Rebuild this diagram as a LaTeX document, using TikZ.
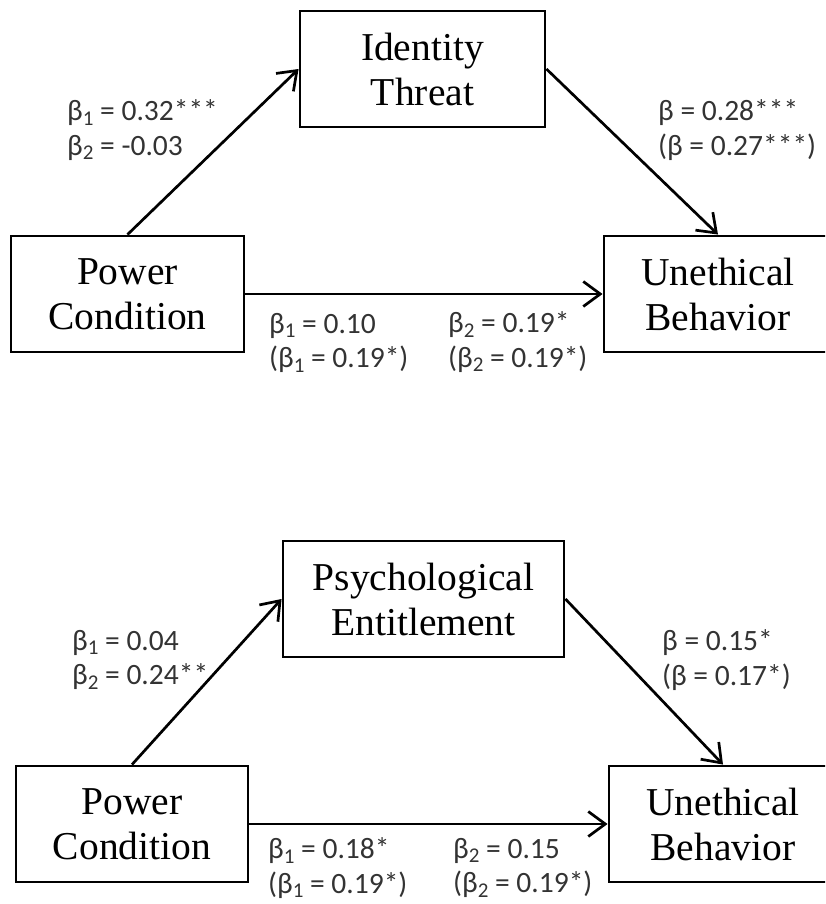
\documentclass[tikz,border=0pt]{standalone}
\usepackage{fontspec}
\setmainfont{Liberation Serif}
\newfontfamily\coeffont{Carlito}
\usetikzlibrary{arrows.meta,positioning}
\tikzset{
  var/.style={draw, line width=2.9pt, minimum height=116pt, inner sep=0pt,
              align=center, font=\fontsize{39.5}{45}\selectfont},
  coef/.style={anchor=west, inner sep=0pt, align=left, text=black!80,
               font=\coeffont\fontsize{29.5}{34.5}\selectfont},
  link/.style={line width=2.7pt,
               -{Straight Barb[length=17pt,width=25pt,line width=2.7pt]}}
}
\newcommand{\bt}[1]{β\raisebox{-0.32ex}{\fontsize{21}{21}\selectfont#1}}

\begin{document}
\begin{tikzpicture}[x=1pt,y=-1pt]
    \clip (0,0) rectangle (825,904);
    % Primo modello: identity threat
    \node[var, minimum width=245pt] (thr) at (422.5,69) {Identity\\Threat};
    \node[var, minimum width=233pt] (pc1) at (127.5,294) {Power\\Condition};
    \node[var, minimum width=228pt] (ub1) at (718,294) {Unethical\\Behavior};
    \draw[link] (pc1.north) -- (thr.west);
    \draw[link] (thr.east) -- (ub1.north);
    \draw[link] (pc1.east) -- (ub1.west);
    \node[coef] (a1) at (67,130) {\bt{1} = 0.32***\\\bt{2} = -0.03};
    \node[coef] (b1) at (658,130) {β = 0.28***\\(β = 0.27***)};
    \node[coef] (c1) at (269,343) {\bt{1} = 0.10\\(\bt{1} = 0.19*)};
    \node[coef] (d1) at (448,342) {\bt{2} = 0.19*\\(\bt{2} = 0.19*)};
    % Secondo modello: psychological entitlement
    \node[var, minimum width=281pt] (ent) at (423.5,599) {Psychological\\Entitlement};
    \node[var, minimum width=232pt] (pc2) at (132,824) {Power\\Condition};
    \node[var, minimum width=228pt] (ub2) at (723,824) {Unethical\\Behavior};
    \draw[link] (pc2.north) -- (ent.west);
    \draw[link] (ent.east) -- (ub2.north);
    \draw[link] (pc2.east) -- (ub2.west);
    \node[coef] (a2) at (72,660) {\bt{1} = 0.04\\\bt{2} = 0.24**};
    \node[coef] (b2) at (662,660) {β = 0.15*\\(β = 0.17*)};
    \node[coef] (c2) at (268,868) {\bt{1} = 0.18*\\(\bt{1} = 0.19*)};
    \node[coef] (d2) at (453,868) {\bt{2} = 0.15\\(\bt{2} = 0.19*)};
\end{tikzpicture}
\end{document}
